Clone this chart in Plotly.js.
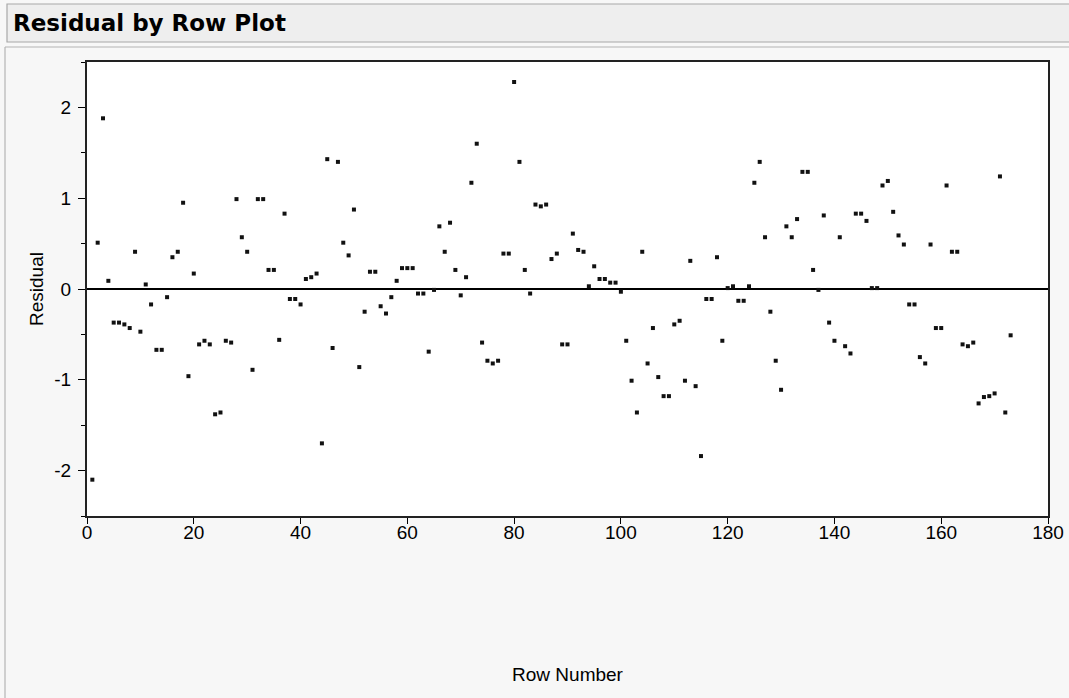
<!DOCTYPE html>
<html>
<head>
<meta charset="utf-8">
<script src="https://cdn.plot.ly/plotly-3.0.1.min.js"></script>
<style>
  html, body { margin: 0; padding: 0; background: #f7f7f7; }
  #chart { width: 1069px; height: 698px; }
</style>
</head>
<body>
<div id="chart"></div>
<script>
// ---- data ----
const chartTitle = "Residual by Row Plot";
const xTitle = "Row Number";
const yTitle = "Residual";
const xTickValues = [0, 20, 40, 60, 80, 100, 120, 140, 160, 180];
const yTickValues = [-2, -1, 0, 1, 2];
const yTickLabels = ["-2", "-1", "0", "1", "2"];
const residuals = [
  -2.10, 0.51, 1.88, 0.09, -0.37, -0.37, -0.39, -0.43, 0.41, -0.47,
  0.05, -0.17, -0.67, -0.67, -0.09, 0.35, 0.41, 0.95, -0.96, 0.17,
  -0.61, -0.57, -0.61, -1.38, -1.36, -0.57, -0.59, 0.99, 0.57, 0.41,
  -0.89, 0.99, 0.99, 0.21, 0.21, -0.56, 0.83, -0.11, -0.11, -0.17,
  0.11, 0.13, 0.17, -1.70, 1.43, -0.65, 1.40, 0.51, 0.37, 0.875,
  -0.86, -0.25, 0.19, 0.19, -0.19, -0.27, -0.09, 0.09, 0.23, 0.23,
  0.23, -0.05, -0.05, -0.69, -0.01, 0.69, 0.41, 0.73, 0.21, -0.07,
  0.13, 1.17, 1.60, -0.59, -0.79, -0.82, -0.79, 0.39, 0.39, 2.28,
  1.40, 0.21, -0.05, 0.93, 0.91, 0.93, 0.33, 0.39, -0.61, -0.61,
  0.61, 0.43, 0.41, 0.03, 0.25, 0.11, 0.11, 0.07, 0.07, -0.03,
  -0.57, -1.01, -1.36, 0.41, -0.82, -0.43, -0.97, -1.18, -1.18, -0.39,
  -0.35, -1.01, 0.31, -1.07, -1.84, -0.11, -0.11, 0.35, -0.57, 0.01,
  0.03, -0.13, -0.13, 0.03, 1.17, 1.40, 0.57, -0.25, -0.79, -1.11,
  0.69, 0.57, 0.77, 1.29, 1.29, 0.21, -0.01, 0.81, -0.37, -0.57,
  0.57, -0.63, -0.71, 0.83, 0.83, 0.75, 0.01, 0.01, 1.14, 1.19,
  0.85, 0.59, 0.49, -0.17, -0.17, -0.75, -0.82, 0.49, -0.43, -0.43,
  1.14, 0.41, 0.41, -0.61, -0.63, -0.59, -1.26, -1.19, -1.18, -1.15,
  1.24, -1.36, -0.51
];
// Row Number is the 1-based position of each residual
const rowNumbers = residuals.map((_, i) => i + 1);

// ---- layout geometry ----
const W = 1069, H = 698;
const M = { l: 87, r: 21, t: 62, b: 182 };
const plotW = W - M.l - M.r, plotH = H - M.t - M.b;
const px2x = p => (p - M.l) / plotW;          // pixel -> paper x
const py2y = p => (H - M.b - p) / plotH;      // pixel -> paper y

const FONT = "Arial, 'Liberation Sans', sans-serif";

const trace = {
  type: "scatter",
  mode: "markers",
  x: rowNumbers,
  y: residuals,
  marker: { symbol: "square", size: 4, color: "#111111", line: { width: 0 } },
  hoverinfo: "x+y",
  showlegend: false
};

const layout = {
  width: W, height: H,
  margin: M,
  paper_bgcolor: "#f7f7f7",
  plot_bgcolor: "#ffffff",
  showlegend: false,
  title: {
    text: "<b>" + chartTitle + "</b>",
    font: { family: "'DejaVu Sans', sans-serif", size: 23, color: "#000000" },
    xref: "container", x: 13 / W, xanchor: "left",
    yref: "container", y: 1 - 23 / H, yanchor: "middle"
  },
  xaxis: {
    range: [0, 180],
    tickvals: xTickValues,
    ticks: "outside", ticklen: 6, tickwidth: 1, tickcolor: "#000",
    ticklabelstandoff: -8,
    tickfont: { family: FONT, size: 19, color: "#000" },
    showgrid: false, zeroline: false,
    showline: true, mirror: true, linecolor: "#222", linewidth: 2,
    title: { text: xTitle, font: { family: FONT, size: 19, color: "#000" }, standoff: 126 },
    automargin: false, fixedrange: true
  },
  yaxis: {
    range: [-2.5, 2.5],
    tickvals: yTickValues,
    ticktext: yTickLabels,
    ticks: "outside", ticklen: 7, tickwidth: 1, tickcolor: "#000",
    ticklabelstandoff: 3,
    minor: { dtick: 0.5, ticks: "outside", ticklen: 4, tickcolor: "#000", showgrid: false },
    tickfont: { family: FONT, size: 19, color: "#000" },
    showgrid: false,
    zeroline: true, zerolinecolor: "#000", zerolinewidth: 1.5,
    showline: true, mirror: true, linecolor: "#222", linewidth: 2,
    title: { text: yTitle, font: { family: FONT, size: 19, color: "#000" }, standoff: 6 },
    automargin: false, fixedrange: true
  },
  shapes: [
    // header bar
    { type: "rect", xref: "paper", yref: "paper", layer: "below",
      x0: px2x(7), x1: px2x(W + 10), y0: py2y(42), y1: py2y(4),
      fillcolor: "#eeeeee", line: { color: "#a8a8a8", width: 1.2 } },
    // panel outline (top and left)
    { type: "line", xref: "paper", yref: "paper",
      x0: px2x(5), x1: px2x(W + 10), y0: py2y(47), y1: py2y(47),
      line: { color: "#b4b4b4", width: 1.2 } },
    { type: "line", xref: "paper", yref: "paper",
      x0: px2x(5), x1: px2x(5), y0: py2y(47), y1: py2y(H + 5),
      line: { color: "#b4b4b4", width: 1.2 } }
  ]
};

Plotly.newPlot("chart", [trace], layout, { displayModeBar: false, staticPlot: true });
</script>
</body>
</html>
